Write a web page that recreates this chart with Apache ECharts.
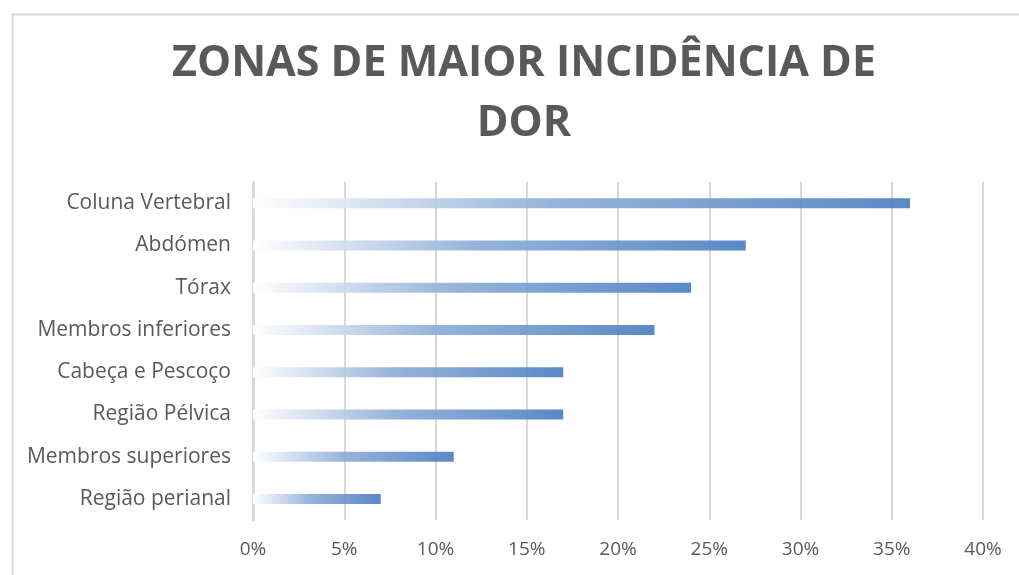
<!DOCTYPE html>
<html>
<head>
<meta charset="utf-8">
<script src="https://cdn.jsdelivr.net/npm/echarts@6/dist/echarts.min.js"></script>
<style>
  html, body { margin: 0; padding: 0; background: #fff; }
  #chart { width: 1019px; height: 575px; }
</style>
</head>
<body>
<div id="chart"></div>
<script>
// zonas de dor, em percentagem
const categories = ['Coluna Vertebral', 'Abdómen', 'Tórax', 'Membros inferiores',
  'Cabeça e Pescoço', 'Região Pélvica', 'Membros superiores', 'Região perianal'];
const values = [36, 27, 24, 22, 17, 17, 11, 7];
const xTicks = { min: 0, max: 40, step: 5 };

const chart = echarts.init(document.getElementById('chart'));

const barColor = new echarts.graphic.LinearGradient(0, 0, 1, 0, [
  { offset: 0, color: '#ffffff' },
  { offset: 0.45, color: '#8eaed8' },
  { offset: 1, color: '#4c7fc2' }
]);

chart.setOption({
  animation: false,
  title: {
    text: 'ZONAS DE MAIOR INCIDÊNCIA DE\nDOR',
    left: 519,
    textAlign: 'center',
    top: 29,
    textStyle: {
      fontFamily: 'Open Sans',
      fontWeight: 'bold',
      fontSize: 43,
      lineHeight: 60,
      color: '#595959'
    }
  },
  graphic: [{
    type: 'rect',
    left: 10,
    top: 12,
    shape: { width: 1030, height: 600 },
    style: { fill: 'none', stroke: '#d9d9d9', lineWidth: 2 }
  }],
  grid: { left: 253, right: 36, top: 182, bottom: 55, containLabel: false },
  xAxis: {
    type: 'value',
    min: xTicks.min,
    max: xTicks.max,
    interval: xTicks.step,
    axisLine: { show: false },
    axisTick: { show: false },
    splitLine: { lineStyle: { color: '#d9d9d9', width: 2 } },
    axisLabel: {
      formatter: '{value}%',
      color: '#595959',
      fontFamily: 'Open Sans',
      fontSize: 19,
      margin: 20
    }
  },
  yAxis: {
    type: 'category',
    data: categories,
    inverse: true,
    axisLine: { show: true, lineStyle: { color: '#d9d9d9', width: 3 } },
    axisTick: { show: false },
    axisLabel: {
      color: '#595959',
      fontFamily: 'Open Sans',
      fontSize: 21,
      margin: 22
    }
  },
  series: [{
    type: 'bar',
    data: values,
    barWidth: 10,
    itemStyle: { color: barColor, opacity: 0.92 }
  }]
});
</script>
</body>
</html>
